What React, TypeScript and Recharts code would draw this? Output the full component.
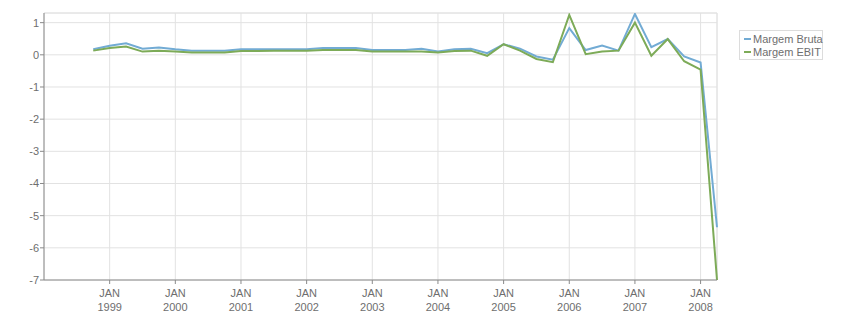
import * as React from "react";
import { CartesianGrid, Line, LineChart, ReferenceLine, XAxis, YAxis } from "recharts";

// quarterly points, as fractional years
const quarters = [
  1998.75, 1999.0, 1999.25, 1999.5, 1999.75, 2000.0, 2000.25, 2000.5, 2000.75,
  2001.0, 2001.25, 2001.5, 2001.75, 2002.0, 2002.25, 2002.5, 2002.75,
  2003.0, 2003.25, 2003.5, 2003.75, 2004.0, 2004.25, 2004.5, 2004.75,
  2005.0, 2005.25, 2005.5, 2005.75, 2006.0, 2006.25, 2006.5, 2006.75,
  2007.0, 2007.25, 2007.5, 2007.75, 2008.0, 2008.25,
];

const margemBruta = [
  0.17, 0.28, 0.36, 0.19, 0.23, 0.17, 0.13, 0.13, 0.13,
  0.17, 0.17, 0.17, 0.17, 0.17, 0.21, 0.21, 0.21,
  0.15, 0.15, 0.15, 0.19, 0.1, 0.17, 0.19, 0.05,
  0.33, 0.19, -0.05, -0.15, 0.83, 0.15, 0.29, 0.13,
  1.27, 0.24, 0.49, -0.05, -0.24, -5.36,
];

const margemEbit = [
  0.13, 0.21, 0.26, 0.1, 0.13, 0.1, 0.07, 0.07, 0.07,
  0.12, 0.12, 0.13, 0.13, 0.13, 0.15, 0.15, 0.15,
  0.1, 0.1, 0.1, 0.1, 0.07, 0.12, 0.13, -0.03,
  0.33, 0.13, -0.13, -0.23, 1.24, 0.02, 0.1, 0.13,
  1.0, -0.03, 0.49, -0.2, -0.46, -7.0,
];

const yearTicks = [1999, 2000, 2001, 2002, 2003, 2004, 2005, 2006, 2007, 2008];
const valueTicks = [1, 0, -1, -2, -3, -4, -5, -6, -7];

const series = [
  { key: "bruta", name: "Margem Bruta", color: "#72abd4" },
  { key: "ebit", name: "Margem EBIT", color: "#7dab58" },
];

const FONT = "'Liberation Sans', Arial, sans-serif";
const TEXT = "#6e6e6e";
const GRID = "#e2e2e2";
const AXIS = "#8a8a8a";

const data = quarters.map((t, i) => ({ t, bruta: margemBruta[i], ebit: margemEbit[i] }));

function YearTick({ x, y, payload }: any) {
  return (
    <text x={x} y={y} textAnchor="middle" fill={TEXT} fontSize={11} fontFamily={FONT}>
      <tspan x={x} dy={11}>JAN</tspan>
      <tspan x={x} dy={14}>{payload.value}</tspan>
    </text>
  );
}

export default function App() {
  return (
    <div style={{ position: "absolute", left: 0, top: 0, width: 851, height: 313, background: "#fff" }}>
      <LineChart
        width={851}
        height={313}
        data={data}
        margin={{ top: 13, right: 134, bottom: 0, left: 0 }}
      >
        <CartesianGrid stroke={GRID} strokeWidth={1} />
        <ReferenceLine y={1.3} stroke={GRID} />
        <ReferenceLine x={2008.25} stroke={GRID} />
        <XAxis
          type="number"
          dataKey="t"
          domain={[1998, 2008.25]}
          ticks={yearTicks}
          interval={0}
          height={33}
          tick={<YearTick />}
          tickSize={4}
          stroke={AXIS}
          tickLine={{ stroke: AXIS }}
        />
        <YAxis
          type="number"
          domain={[-7, 1.3]}
          ticks={valueTicks}
          interval={0}
          width={44}
          tickSize={4}
          tickMargin={1}
          stroke={AXIS}
          tick={{ fill: TEXT, fontSize: 11, fontFamily: FONT }}
          allowDataOverflow
        />
        {series.map((s) => (
          <Line
            key={s.key}
            type="linear"
            dataKey={s.key}
            name={s.name}
            stroke={s.color}
            strokeWidth={2}
            dot={false}
            isAnimationActive={false}
          />
        ))}
      </LineChart>
      <div
        style={{
          position: "absolute",
          left: 739,
          top: 30,
          width: 82,
          padding: "1px 0",
          border: "1px solid #dcdcdc",
          background: "#fff",
          fontFamily: FONT,
          fontSize: 11,
          color: TEXT,
          whiteSpace: "nowrap",
        }}
      >
        {series.map((s) => (
          <div key={s.key} style={{ display: "flex", alignItems: "center", height: 13, paddingLeft: 4 }}>
            <span style={{ display: "inline-block", width: 7, height: 2, background: s.color, marginRight: 2, flex: "none" }} />
            <span>{s.name}</span>
          </div>
        ))}
      </div>
    </div>
  );
}
